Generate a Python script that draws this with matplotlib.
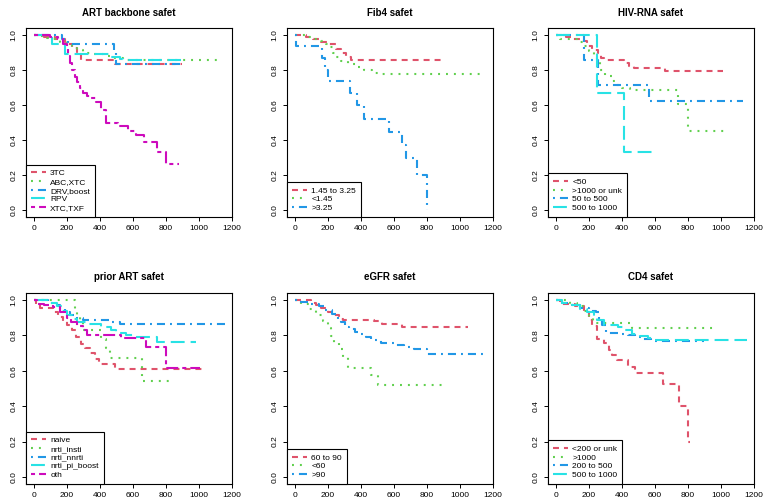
import matplotlib
matplotlib.use("Agg")
import matplotlib.pyplot as plt
from matplotlib.lines import Line2D

plt.rcParams['font.family'] = ['Liberation Sans', 'DejaVu Sans']
plt.rcParams['lines.scale_dashes'] = False

# R default palette colours 2..6 and line types 2..6
colors = ['#DF536B', '#61D04F', '#2297E6', '#28E2E5', '#CD0BBC']
dashes = [(0, (4.3, 3.6)), (0, (1.4, 4.3)), (0, (1.4, 3.6, 5.8, 3.6)),
          (0, (10, 4.3)), (0, (2.9, 2.9, 8.6, 2.9))]

# ---- ART backbone
art_labels = ['3TC', 'ABC,XTC', 'DRV,boost', 'RPV', 'XTC,TXF']
art_times = [
    [0, 60, 130, 190, 230, 260, 285, 490, 900],
    [0, 40, 80, 120, 160, 200, 230, 260, 300, 350, 420, 480, 540, 1140],
    [0, 170, 210, 485, 500, 890],
    [0, 110, 190, 470, 520, 540, 890],
    [0, 100, 150, 180, 200, 210, 220, 235, 250, 265, 280, 300, 320, 350, 380,
     410, 440, 510, 570, 620, 670, 745, 800, 880],
]
art_surv = [
    [1.0, 0.99, 0.975, 0.95, 0.925, 0.895, 0.857, 0.835, 0.835],
    [1.0, 0.995, 0.985, 0.975, 0.96, 0.945, 0.93, 0.915, 0.9, 0.89, 0.88, 0.87, 0.857, 0.857],
    [1.0, 0.975, 0.95, 0.90, 0.835, 0.835],
    [1.0, 0.95, 0.89, 0.875, 0.865, 0.855, 0.855],
    [1.0, 0.99, 0.975, 0.95, 0.92, 0.88, 0.84, 0.80, 0.76, 0.73, 0.70, 0.67, 0.65,
     0.64, 0.62, 0.57, 0.50, 0.48, 0.45, 0.43, 0.39, 0.33, 0.265, 0.265],
]

# ---- Fib4
fib_labels = ['1.45 to 3.25', '<1.45', '>3.25']
fib_times = [
    [0, 70, 110, 160, 210, 250, 280, 310, 340, 884],
    [0, 80, 120, 160, 190, 210, 230, 250, 280, 320, 370, 420, 470, 520, 1144],
    [0, 8, 165, 185, 200, 335, 380, 420, 570, 650, 675, 740, 800],
]
fib_surv = [
    [1.0, 0.99, 0.975, 0.96, 0.95, 0.92, 0.895, 0.875, 0.857, 0.857],
    [1.0, 0.99, 0.98, 0.965, 0.95, 0.93, 0.9, 0.875, 0.85, 0.835, 0.82, 0.8, 0.785, 0.775, 0.775],
    [1.0, 0.94, 0.87, 0.80, 0.735, 0.67, 0.60, 0.52, 0.445, 0.37, 0.30, 0.20, 0.0],
]

# ---- HIV-RNA
hiv_labels = ['<50', '>1000 or unk', '50 to 500', '500 to 1000']
hiv_times = [
    [0, 60, 100, 150, 190, 220, 255, 275, 295, 415, 445, 475, 660, 1010],
    [0, 25, 150, 170, 200, 230, 250, 270, 300, 340, 370, 400, 450, 740, 800, 1050],
    [0, 170, 255, 565, 1135],
    [0, 250, 415, 590],
]
hiv_surv = [
    [1.0, 0.99, 0.98, 0.965, 0.935, 0.915, 0.895, 0.87, 0.855, 0.84, 0.825, 0.812, 0.797, 0.797],
    [1.0, 0.979, 0.96, 0.94, 0.91, 0.88, 0.85, 0.80, 0.765, 0.735, 0.715, 0.697, 0.683, 0.608, 0.453, 0.453],
    [1.0, 0.857, 0.714, 0.625, 0.625],
    [1.0, 0.667, 0.333, 0.333],
]

# ---- prior ART
prior_labels = ['naive', 'nrti_insti', 'nrti_nnrti', 'nrti_pi_boost', 'oth']
prior_times = [
    [0, 12, 40, 120, 150, 180, 205, 230, 255, 285, 310, 340, 370, 395, 490, 1020],
    [0, 250, 260, 280, 300, 410, 440, 460, 655, 850],
    [0, 90, 130, 160, 190, 220, 260, 300, 460, 520, 1155],
    [0, 100, 140, 170, 200, 230, 260, 320, 410, 470, 500, 560, 600, 745, 980],
    [0, 20, 60, 120, 160, 200, 225, 265, 300, 325, 530, 680, 800, 1005],
]
prior_surv = [
    [1.0, 0.975, 0.955, 0.93, 0.905, 0.88, 0.86, 0.83, 0.79, 0.75, 0.73, 0.70, 0.665, 0.64, 0.613, 0.613],
    [1.0, 0.94, 0.91, 0.88, 0.83, 0.78, 0.73, 0.675, 0.54, 0.54],
    [1.0, 0.985, 0.97, 0.95, 0.93, 0.915, 0.9, 0.887, 0.875, 0.862, 0.862],
    [1.0, 0.985, 0.965, 0.94, 0.915, 0.895, 0.875, 0.865, 0.845, 0.83, 0.815, 0.80, 0.79, 0.764, 0.764],
    [1.0, 0.98, 0.97, 0.96, 0.93, 0.9, 0.875, 0.855, 0.83, 0.805, 0.783, 0.736, 0.615, 0.615],
]

# ---- eGFR
egfr_labels = ['60 to 90', '<60', '>90']
egfr_times = [
    [0, 100, 130, 160, 200, 240, 270, 290, 480, 530, 650, 1048],
    [0, 40, 90, 130, 170, 200, 220, 240, 270, 295, 325, 460, 505, 898],
    [0, 40, 100, 150, 185, 225, 260, 280, 305, 330, 365, 400, 430, 465, 525, 600, 660, 720, 800, 1159],
]
egfr_surv = [
    [1.0, 0.985, 0.97, 0.955, 0.935, 0.915, 0.895, 0.887, 0.88, 0.866, 0.85, 0.85],
    [1.0, 0.975, 0.95, 0.915, 0.88, 0.84, 0.795, 0.755, 0.725, 0.68, 0.615, 0.578, 0.519, 0.519],
    [1.0, 0.99, 0.98, 0.965, 0.945, 0.92, 0.895, 0.875, 0.845, 0.835, 0.82, 0.81, 0.79, 0.775,
     0.758, 0.748, 0.737, 0.725, 0.695, 0.695],
]

# ---- CD4
cd4_labels = ['<200 or unk', '>1000', '200 to 500', '500 to 1000']
cd4_times = [
    [0, 25, 120, 170, 200, 220, 250, 290, 320, 340, 370, 440, 480, 650, 745, 800, 815],
    [0, 90, 130, 170, 200, 225, 460, 950],
    [0, 40, 100, 150, 200, 245, 260, 280, 305, 400, 440, 480, 530, 580, 900],
    [0, 40, 100, 150, 190, 230, 250, 290, 380, 420, 460, 510, 560, 600, 1160],
]
cd4_surv = [
    [1.0, 0.98, 0.965, 0.93, 0.89, 0.855, 0.78, 0.755, 0.72, 0.69, 0.66, 0.623, 0.587, 0.527, 0.40, 0.20, 0.20],
    [1.0, 0.985, 0.965, 0.94, 0.905, 0.87, 0.843, 0.843],
    [1.0, 0.985, 0.97, 0.955, 0.94, 0.93, 0.89, 0.86, 0.815, 0.81, 0.8, 0.79, 0.78, 0.77, 0.77],
    [1.0, 0.985, 0.97, 0.95, 0.935, 0.91, 0.89, 0.86, 0.85, 0.83, 0.81, 0.795, 0.785, 0.775, 0.775],
]

panels = [
    ('ART backbone safet', art_labels, art_times, art_surv),
    ('Fib4 safet', fib_labels, fib_times, fib_surv),
    ('HIV-RNA safet', hiv_labels, hiv_times, hiv_surv),
    ('prior ART safet', prior_labels, prior_times, prior_surv),
    ('eGFR safet', egfr_labels, egfr_times, egfr_surv),
    ('CD4 safet', cd4_labels, cd4_times, cd4_surv),
]

W, H = 769, 503
fig = plt.figure(figsize=(W / 100, H / 100), dpi=100)
lefts = [26, 287, 548]
rows = [(28, 217), (293, 484)]

for k, (title, labels, times, surv) in enumerate(panels):
    top, bot = rows[k // 3]
    left = lefts[k % 3]
    ax = fig.add_axes([left / W, 1 - bot / H, 206 / W, (bot - top) / H])
    handles = []
    for i in range(len(labels)):
        ln, = ax.step(times[i], surv[i], where='post', color=colors[i],
                      linestyle=dashes[i], lw=1.5)
        handles.append(Line2D([], [], color=colors[i], linestyle=dashes[i], lw=1.5))
    ax.set_xlim(-46, 1196)
    ax.set_ylim(-0.04, 1.04)
    ax.set_xticks(range(0, 1201, 200))
    ax.set_yticks([0, 0.2, 0.4, 0.6, 0.8, 1.0])
    ax.set_yticklabels(['0.0', '0.2', '0.4', '0.6', '0.8', '1.0'])
    ax.tick_params(labelsize=6, length=3, width=0.7, pad=3)
    ax.tick_params(axis='y', labelrotation=90)
    for lab in ax.get_yticklabels():
        lab.set_va('center')
    for sp in ax.spines.values():
        sp.set_linewidth(0.8)
    ax.set_title(title, fontsize=7, fontweight='bold', pad=9)
    leg = ax.legend(handles, labels, loc='lower left', borderaxespad=0,
                    fancybox=False, edgecolor='black', framealpha=1,
                    fontsize=6, handlelength=1.8, handletextpad=0.5,
                    labelspacing=0.1, borderpad=0.6)
    leg.get_frame().set_linewidth(0.8)

fig.savefig('out.png', dpi=100)
